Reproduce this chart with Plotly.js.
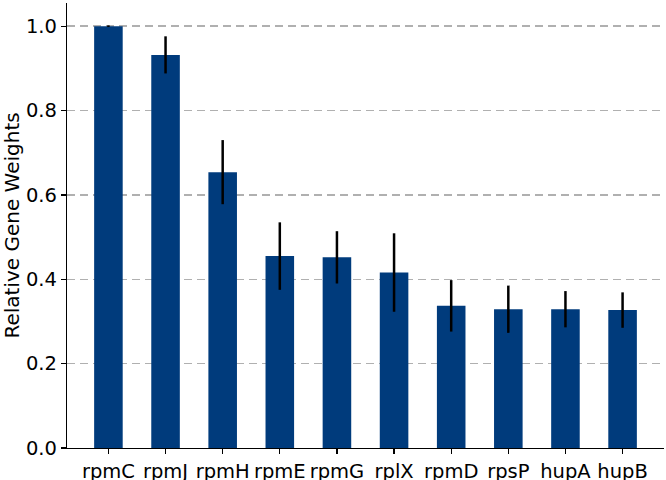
<!DOCTYPE html>
<html>
<head>
<meta charset="utf-8">
<script src="https://cdn.plot.ly/plotly-3.0.1.min.js"></script>
<style>html,body{margin:0;padding:0;background:#fff;}#chart{width:666px;height:480px;}</style>
</head>
<body>
<div id="chart"></div>
<script>
const genes = ["rpmC", "rpmJ", "rpmH", "rpmE", "rpmG", "rplX", "rpmD", "rpsP", "hupA", "hupB"];
const weights = [1.0, 0.932, 0.654, 0.455, 0.452, 0.416, 0.337, 0.329, 0.329, 0.327];
const errors = [0.002, 0.044, 0.076, 0.08, 0.062, 0.093, 0.061, 0.056, 0.043, 0.042];
const yTicks = [0.0, 0.2, 0.4, 0.6, 0.8, 1.0];

const trace = {
  type: "bar",
  x: genes,
  y: weights,
  width: 0.5,
  marker: {color: "#003b7c", line: {width: 0}},
  error_y: {type: "data", array: errors, visible: true, color: "#000000", thickness: 2.5, width: 0}
};

const layout = {
  width: 666, height: 480,
  margin: {l: 67, r: 2, t: 3, b: 32},
  paper_bgcolor: "#ffffff", plot_bgcolor: "#ffffff",
  showlegend: false,
  font: {family: "DejaVu Sans", size: 19, color: "#000000"},
  xaxis: {
    range: [-0.725, 9.725],
    showline: true, linecolor: "#000000", linewidth: 1.2,
    ticks: "outside", ticklen: 5, tickwidth: 1.2, tickcolor: "#000000",
    showgrid: false, zeroline: false,
    tickfont: {family: "DejaVu Sans", size: 19.5, color: "#000000"}
  },
  yaxis: {
    range: [0, 1.055],
    tickvals: yTicks,
    ticktext: yTicks.map(v => v.toFixed(1)),
    showline: true, linecolor: "#000000", linewidth: 1.2,
    ticks: "outside", ticklen: 5, tickwidth: 1.2, tickcolor: "#000000",
    showgrid: true, gridcolor: "#b0b0b0", gridwidth: 1.5, griddash: "8px,5px",
    zeroline: false,
    tickfont: {family: "DejaVu Sans", size: 19.5, color: "#000000"},
    title: {text: "Relative Gene Weights", font: {family: "DejaVu Sans", size: 20, color: "#000000"}, standoff: 5}
  }
};

Plotly.newPlot("chart", [trace], layout, {displayModeBar: false, staticPlot: true});
</script>
</body>
</html>
